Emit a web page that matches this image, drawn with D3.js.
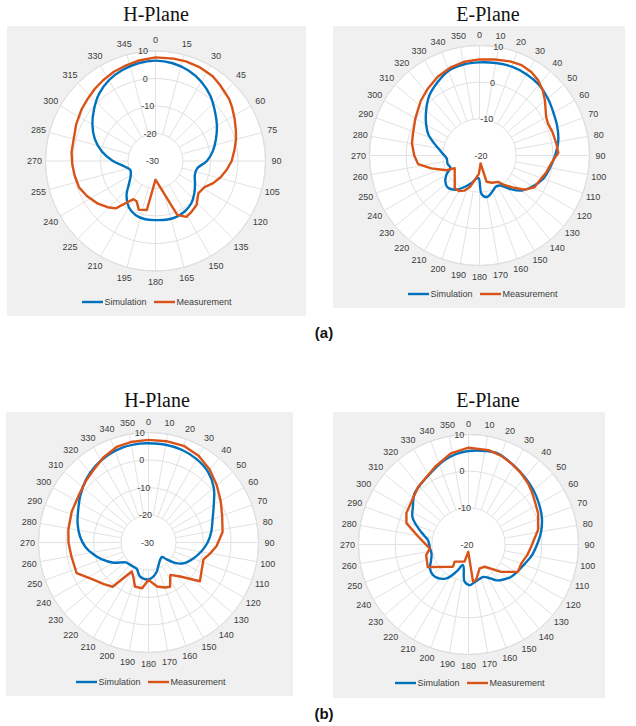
<!DOCTYPE html>
<html>
<head>
<meta charset="utf-8">
<script src="https://cdn.jsdelivr.net/npm/d3@7"></script>
<style>
  html, body { margin: 0; padding: 0; background: #ffffff; }
  svg { display: block; }
</style>
</head>
<body>
<svg id="fig" width="636" height="726"></svg>
<script>
// ---- Tick labels ----
const thetaTicks15 = [0, 15, 30, 45, 60, 75, 90, 105, 120, 135, 150, 165, 180, 195, 210, 225, 240, 255, 270, 285, 300, 315, 330, 345];
const thetaTicks10 = [0, 10, 20, 30, 40, 50, 60, 70, 80, 90, 100, 110, 120, 130, 140, 150, 160, 170, 180, 190, 200, 210, 220, 230, 240, 250, 260, 270, 280, 290, 300, 310, 320, 330, 340, 350];
const rTicksH = [-30, -20, -10, 0, 10];
const rTicksE = [-20, -10, 0, 10];
const seriesNames = ["Simulation", "Measurement"];

// ---- Radiation patterns: [angle (deg), gain (dB)] ----
// (a) H-Plane
const hPlaneA_sim = [[0,6.5],[10,6.1],[20,5.0],[30,3.3],[40,1.0],[50,-1.8],[60,-4.2],[70,-6.6],[80,-8.8],[90,-11.3],[100,-14.6],[110,-14.8],[120,-13.4],[130,-11.6],[140,-9.8],[150,-8.8],[160,-8.3],[170,-8.3],[180,-8.5],[190,-8.5],[200,-9.0],[210,-10.6],[220,-13.6],[230,-17.5],[240,-19.6],[250,-20.3],[260,-18.6],[270,-14.5],[280,-10.2],[290,-6.5],[300,-3.5],[310,-0.8],[320,1.9],[330,3.9],[340,5.2],[350,6.1]];
const hPlaneA_meas = [[0,7.7],[10,7.8],[17,7.9],[25,7.7],[34,7.2],[40,6.3],[50,5.0],[55,4.0],[62,2.6],[69,1.3],[75,0.3],[82,-1.0],[90,-2.3],[97,-3.9],[104,-5.6],[111,-7.5],[118,-9.8],[127,-10.5],[137,-8.1],[146,-7.2],[151,-6.8],[158,-8.9],[180,-23.2],[190,-11.9],[199,-11.3],[205,-13.8],[210,-14.0],[214,-12.0],[220,-7.5],[226,-5.8],[234,-3.8],[243,-2.0],[251,-0.6],[260,-0.1],[268,0.3],[276,0.7],[285,0.8],[295,1.8],[305,2.8],[312,3.4],[320,4.3],[327,5.0],[335,5.8],[343,6.4],[350,7.0]];

// (a) E-Plane
const ePlaneA_sim = [[0,5.4],[10,5.6],[20,5.8],[30,5.6],[40,5.2],[50,4.3],[60,3.3],[70,2.6],[80,1.8],[90,0.6],[100,-0.5],[110,-1.5],[120,-3.2],[130,-5.1],[138,-7.8],[145,-10.0],[152,-10.4],[160,-9.6],[170,-8.5],[177,-9.5],[182,-13.8],[188,-13.6],[195,-12.4],[205,-10.6],[215,-8.6],[225,-7.7],[232,-8.2],[240,-9.6],[247,-11.4],[255,-11.0],[265,-11.0],[275,-9.6],[285,-7.2],[292,-5.0],[300,-3.2],[310,-1.0],[320,1.3],[330,3.0],[340,4.6],[350,5.2]];
const ePlaneA_meas = [[0,6.2],[9,6.5],[18,7.0],[25,7.2],[32,6.8],[38,6.0],[44,4.8],[50,3.3],[55,2.0],[60,1.0],[65,0.6],[72,0.9],[81,1.2],[88,1.5],[96,-0.3],[104,-1.2],[112,-2.2],[120,-2.7],[127,-4.5],[134,-7.5],[140,-9.5],[145,-11.2],[155,-11.8],[165,-12.6],[172,-17.8],[182,-15.0],[191,-13.2],[197,-11.0],[203,-9.6],[210,-8.8],[217,-8.8],[243,-12.4],[246,-10.1],[255,-6.4],[262,-3.1],[270,-2.2],[280,-1.3],[288,-0.9],[300,0.2],[313,1.9],[322,3.0],[332,4.3],[342,5.3],[351,5.9]];

// (b) H-Plane
const hPlaneB_sim = [[0,6.1],[10,6.1],[20,5.8],[30,5.0],[40,3.6],[50,1.0],[60,-2.6],[70,-5.2],[80,-6.8],[90,-8.5],[100,-10.6],[110,-12.8],[120,-15.0],[127,-17.5],[133,-21.0],[137,-22.8],[145,-22.5],[156,-21.0],[165,-18.8],[172,-17.5],[180,-16.6],[188,-16.7],[195,-17.4],[204,-19.5],[212,-19.6],[220,-19.5],[229,-19.0],[240,-15.3],[250,-12.0],[258,-9.5],[266,-7.0],[275,-5.0],[285,-3.3],[295,-1.8],[305,0.2],[315,2.2],[325,3.8],[335,5.0],[345,5.8],[355,6.1]];
const hPlaneB_meas = [[0,7.3],[10,7.4],[20,7.4],[30,6.4],[40,4.6],[50,2.4],[60,0.3],[70,-1.5],[82,-2.8],[93,-5.2],[100,-7.2],[107,-9.1],[127,-6.6],[137,-13.1],[146,-15.8],[154,-12.1],[160,-12.6],[169,-13.7],[180,-16.4],[188,-13.2],[197,-13.2],[204,-16.4],[210,-17.8],[219,-9.3],[227,-7.8],[236,-5.8],[247,-1.6],[260,-1.5],[270,-0.9],[279,-0.5],[292,0.1],[305,0.7],[315,2.0],[323,3.1],[332,5.0],[342,6.7],[350,7.1]];

// (b) E-Plane
const ePlaneB_sim = [[0,5.5],[10,5.9],[18,6.1],[30,4.8],[40,3.9],[50,3.1],[60,2.2],[70,1.3],[80,0.1],[90,-1.3],[100,-2.5],[110,-3.9],[120,-4.8],[127,-5.4],[135,-6.5],[142,-7.6],[150,-9.6],[156,-10.3],[165,-10.0],[172,-9.5],[178,-8.9],[186,-9.8],[195,-14.2],[204,-11.9],[213,-9.0],[226,-7.3],[238,-7.6],[246,-8.8],[256,-9.6],[266,-9.4],[276,-8.9],[282,-7.5],[288,-5.6],[296,-3.0],[304,-1.7],[313,0.2],[322,1.0],[330,1.8],[337,2.8],[344,3.9],[352,4.9]];
const ePlaneB_meas = [[0,6.4],[12,6.3],[20,5.8],[28,5.0],[36,4.2],[44,3.3],[50,2.5],[56,1.7],[66,0.8],[78,-0.6],[92,-2.9],[100,-3.7],[110,-4.7],[119,-4.6],[130,-8.4],[144,-12.5],[155,-12.8],[168,-10.1],[173,-9.8],[182,-18.0],[193,-15.2],[219,-14.0],[215,-12.6],[241,-7.3],[256,-8.1],[264,-9.4],[279,-6.1],[289,-2.1],[297,-1.0],[319,0.9],[337,3.1],[349,5.3]];

// ---- Layout of the four polar panels ----
const panels = [
  { title: "H-Plane", box: [7, 26, 299, 290], titleX: 156, titleY: 21, cx: 155.5, cy: 161,
    rTicks: rTicksH, thetaTicks: thetaTicks15, rLabelAngle: -5, rLabelShift: -3,
    sim: hPlaneA_sim, meas: hPlaneA_meas, legendX: 82, legendY: 302 },
  { title: "E-Plane", box: [333, 26, 292, 282], titleX: 488, titleY: 21, cx: 479.5, cy: 155.5,
    rTicks: rTicksE, thetaTicks: thetaTicks10, rLabelAngle: 9, rLabelShift: 1.5,
    sim: ePlaneA_sim, meas: ePlaneA_meas, legendX: 408, legendY: 294 },
  { title: "H-Plane", box: [6, 412, 287, 284], titleX: 157, titleY: 407, cx: 148.5, cy: 542.5,
    rTicks: rTicksH, thetaTicks: thetaTicks10, rLabelAngle: -4, rLabelShift: -1,
    sim: hPlaneB_sim, meas: hPlaneB_meas, legendX: 76, legendY: 682 },
  { title: "E-Plane", box: [333, 412, 272, 286], titleX: 488, titleY: 407, cx: 468.5, cy: 544.5,
    rTicks: rTicksE, thetaTicks: thetaTicks10, rLabelAngle: -4, rLabelShift: -1.5,
    sim: ePlaneB_sim, meas: ePlaneB_meas, legendX: 395, legendY: 683 }
];

const colors = { sim: "#0072BD", meas: "#D95319" };
const R = 110;
const svg = d3.select("#fig");
const rad = d => d * Math.PI / 180;

function drawPanel(p) {
  const g = svg.append("g");
  g.append("rect")
    .attr("x", p.box[0]).attr("y", p.box[1])
    .attr("width", p.box[2]).attr("height", p.box[3])
    .attr("fill", "#f0f0f0");

  g.append("text")
    .attr("x", p.titleX).attr("y", p.titleY)
    .attr("text-anchor", "middle")
    .attr("font-family", "'Liberation Serif', 'Times New Roman', serif")
    .attr("font-size", 20)
    .attr("fill", "#111")
    .text(p.title);

  const rMin = d3.min(p.rTicks), rMax = d3.max(p.rTicks);
  const r = d3.scaleLinear().domain([rMin, rMax]).range([0, R]);
  const pg = g.append("g").attr("transform", `translate(${p.cx},${p.cy})`);

  pg.append("circle").attr("r", R).attr("fill", "#ffffff").attr("stroke", "#d8d8d8").attr("stroke-width", 1);

  // angular grid (starts at first ring to keep the centre clear)
  const r0 = r(p.rTicks[1]);
  pg.selectAll("line.spoke").data(p.thetaTicks).join("line")
    .attr("class", "spoke")
    .attr("x1", d => r0 * Math.sin(rad(d))).attr("y1", d => -r0 * Math.cos(rad(d)))
    .attr("x2", d => R * Math.sin(rad(d))).attr("y2", d => -R * Math.cos(rad(d)))
    .attr("stroke", "#e2e2e2").attr("stroke-width", 1);

  // radial rings
  pg.selectAll("circle.ring").data(p.rTicks.filter(t => t > rMin)).join("circle")
    .attr("class", "ring")
    .attr("r", d => r(d))
    .attr("fill", "none").attr("stroke", "#e0e0e0").attr("stroke-width", 1);

  // angle labels
  const labR = R + 11;
  pg.selectAll("text.theta").data(p.thetaTicks).join("text")
    .attr("class", "theta")
    .attr("x", d => labR * Math.sin(rad(d)))
    .attr("y", d => -labR * Math.cos(rad(d)))
    .attr("text-anchor", "middle")
    .attr("dominant-baseline", "central")
    .attr("font-family", "'Liberation Sans', Arial, sans-serif")
    .attr("font-size", 9)
    .attr("fill", "#3c3c3c")
    .text(d => d);

  // radial labels
  pg.selectAll("text.rlab").data(p.rTicks).join("text")
    .attr("class", "rlab")
    .attr("x", d => r(d) * Math.sin(rad(p.rLabelAngle)) + p.rLabelShift)
    .attr("y", d => -r(d) * Math.cos(rad(p.rLabelAngle)))
    .attr("text-anchor", "middle")
    .attr("dominant-baseline", "central")
    .attr("font-family", "'Liberation Sans', Arial, sans-serif")
    .attr("font-size", 9)
    .attr("fill", "#3c3c3c")
    .text(d => d);

  const simLine = d3.lineRadial()
    .angle(d => rad(d[0])).radius(d => r(d[1]))
    .curve(d3.curveCatmullRomClosed.alpha(0.5));
  const measLine = d3.lineRadial()
    .angle(d => rad(d[0])).radius(d => r(d[1]))
    .curve(d3.curveLinearClosed);

  pg.append("path").attr("d", simLine(p.sim))
    .attr("fill", "none").attr("stroke", colors.sim).attr("stroke-width", 2.4)
    .attr("stroke-linejoin", "round");
  pg.append("path").attr("d", measLine(p.meas))
    .attr("fill", "none").attr("stroke", colors.meas).attr("stroke-width", 2.4)
    .attr("stroke-linejoin", "round");

  // legend
  const lg = g.append("g").attr("transform", `translate(${p.legendX},${p.legendY})`);
  const items = [
    { name: seriesNames[0], color: colors.sim, x: 0 },
    { name: seriesNames[1], color: colors.meas, x: 72 }
  ];
  items.forEach(it => {
    lg.append("line").attr("x1", it.x).attr("x2", it.x + 21).attr("y1", 0).attr("y2", 0)
      .attr("stroke", it.color).attr("stroke-width", 2.4);
    lg.append("text").attr("x", it.x + 22.5).attr("y", 0)
      .attr("dominant-baseline", "central")
      .attr("font-family", "'Liberation Sans', Arial, sans-serif")
      .attr("font-size", 9)
      .attr("fill", "#3c3c3c")
      .text(it.name);
  });
}

panels.forEach(drawPanel);

// sub-figure captions
[["(a)", 338], ["(b)", 719]].forEach(([t, y]) => {
  svg.append("text")
    .attr("x", 324).attr("y", y)
    .attr("text-anchor", "middle")
    .attr("font-family", "'Liberation Sans', Arial, sans-serif")
    .attr("font-weight", "bold")
    .attr("font-size", 15)
    .attr("fill", "#111")
    .text(t);
});
</script>
</body>
</html>
